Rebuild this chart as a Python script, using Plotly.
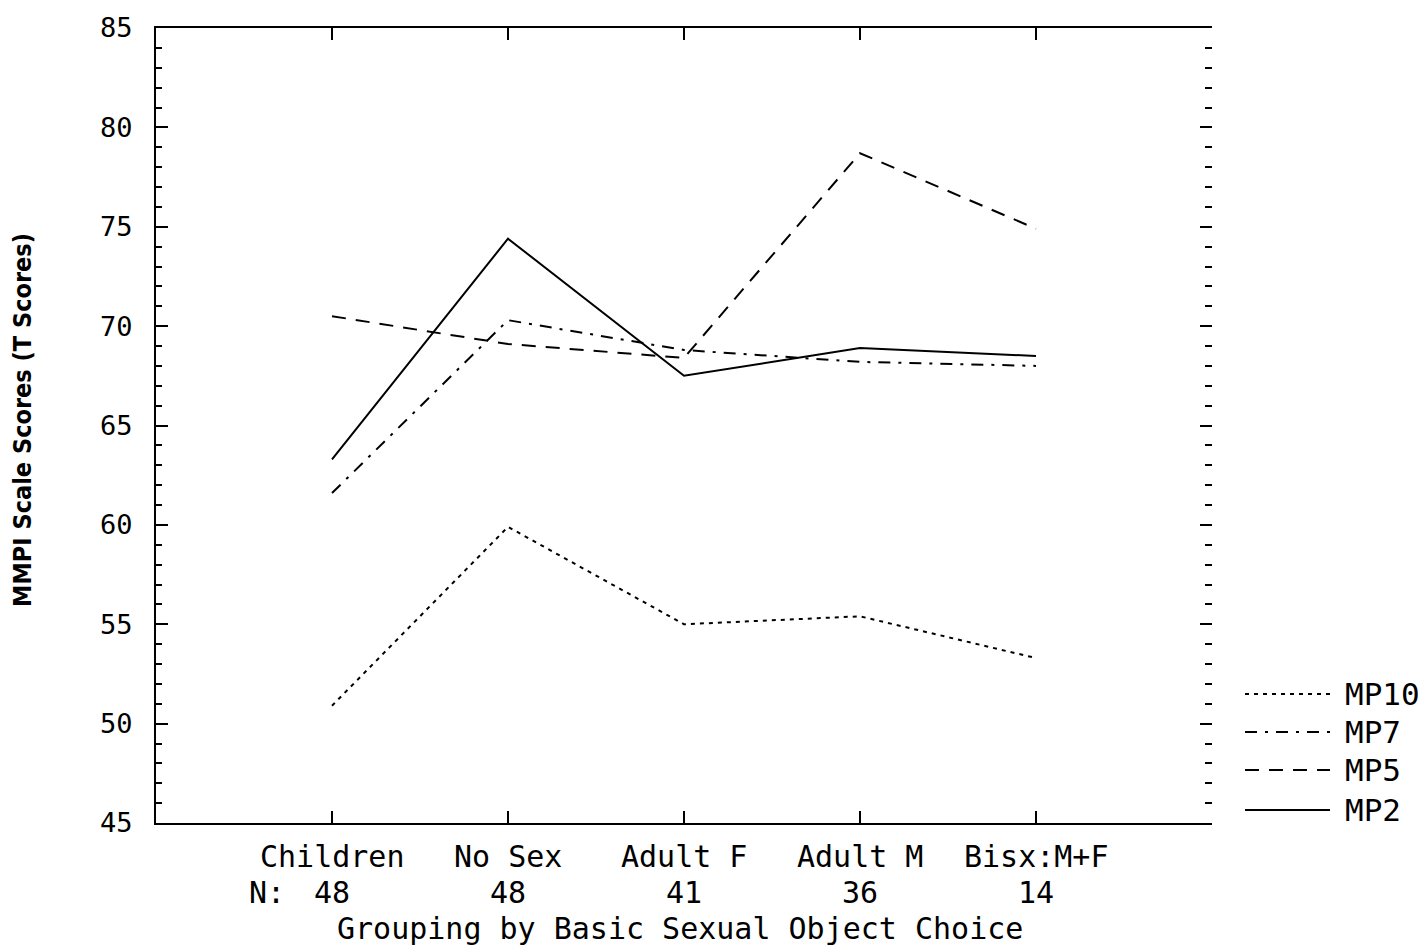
import plotly.graph_objects as go

# ---- data ----
categories = ["Children", "No Sex", "Adult F", "Adult M", "Bisx:M+F"]
n_values = [48, 48, 41, 36, 14]
x_pos = [1, 2, 3, 4, 5]

mp10 = [50.9, 59.9, 55.0, 55.4, 53.3]
mp7 = [61.6, 70.3, 68.8, 68.2, 68.0]
mp5 = [70.5, 69.1, 68.4, 78.7, 74.9]
mp2 = [63.3, 74.4, 67.5, 68.9, 68.5]

series_names = ["MP10", "MP7", "MP5", "MP2"]
series_values = [mp10, mp7, mp5, mp2]
series_dash = ["4px,5px", "12px,8px,3px,8px", "14px,10px", "solid"]

y_ticks = [45, 50, 55, 60, 65, 70, 75, 80, 85]

x_title = "Grouping by Basic Sexual Object Choice"
y_title = "MMPI Scale Scores (T Scores)"

MONO = "DejaVu Sans Mono, Liberation Mono, monospace"
NARROW = "Liberation Sans Narrow, DejaVu Sans Condensed, Arial Narrow, sans-serif"
TXT = 30

fig = go.Figure()
for name, vals, dash in zip(series_names, series_values, series_dash):
    fig.add_trace(go.Scatter(
        x=x_pos, y=vals, mode="lines", name=name,
        line=dict(color="black", width=2, dash=dash),
        showlegend=False,
    ))
# dummy trace so the right-hand tick axis is drawn
fig.add_trace(go.Scatter(x=[None], y=[None], yaxis="y2", showlegend=False))

W, H = 1423, 948
L, R, T, B = 156, 211, 28, 125
pw, ph = W - L - R, H - T - B

fig.update_layout(
    width=W, height=H,
    margin=dict(l=L, r=R, t=T, b=B, pad=0),
    paper_bgcolor="white", plot_bgcolor="white",
    showlegend=False,
    xaxis=dict(
        range=[0, 6], tickvals=x_pos, showticklabels=False,
        showline=True, linecolor="black", linewidth=2, mirror="ticks",
        ticks="inside", ticklen=12, tickwidth=2, tickcolor="black",
        showgrid=False, zeroline=False,
    ),
    yaxis=dict(
        range=[45, 85], tickvals=y_ticks, ticktext=[str(v) for v in y_ticks],
        showline=True, linecolor="black", linewidth=2, mirror=False,
        ticks="inside", ticklen=12, tickwidth=2, tickcolor="black",
        minor=dict(dtick=1, ticks="inside", ticklen=6, tickwidth=2, tickcolor="black"),
        tickfont=dict(family=MONO, size=27, color="black"),
        ticklabelstandoff=16,
        showgrid=False, zeroline=False,
    ),
    yaxis2=dict(
        range=[45, 85], overlaying="y", side="right", anchor="x",
        tickvals=y_ticks, showticklabels=False, showline=False,
        ticks="inside", ticklen=12, tickwidth=2, tickcolor="black",
        minor=dict(dtick=1, ticks="inside", ticklen=7, tickwidth=2, tickcolor="black"),
        showgrid=False, zeroline=False,
    ),
)

ann = []
font_x = dict(family=MONO, size=TXT, color="black")
# category labels
for xp, c in zip(x_pos, categories):
    ann.append(dict(x=xp, y=0, xref="x", yref="paper", yanchor="middle", yshift=-33,
                    text=c, showarrow=False, borderpad=0, font=font_x))
# N row
ann.append(dict(x=0.63, y=0, xref="x", yref="paper", yanchor="middle", yshift=-69,
                text="N:", showarrow=False, borderpad=0, font=font_x))
for xp, n in zip(x_pos, n_values):
    ann.append(dict(x=xp, y=0, xref="x", yref="paper", yanchor="middle", yshift=-69,
                    text=str(n), showarrow=False, borderpad=0, font=font_x))
# x title
ann.append(dict(x=0.496, y=0, xref="paper", yref="paper", yanchor="middle", yshift=-105,
                text=x_title, showarrow=False, borderpad=0, font=font_x))
# y title
ann.append(dict(x=(22 - L) / pw, y=(823 - 420) / ph, xref="paper", yref="paper",
                xanchor="center", yanchor="middle", textangle=-90,
                text=y_title, showarrow=False,
                font=dict(family=NARROW, size=25, color="black", weight="bold")))

# legend (manual, bottom-right outside plot)
leg_y_px = [694, 732, 770, 810]
shapes = []
for name, dash, ypx in zip(series_names, series_dash, leg_y_px):
    yp = (823 - ypx) / ph
    shapes.append(dict(type="line", xref="paper", yref="paper",
                       x0=(1245 - L) / pw, x1=(1330 - L) / pw, y0=yp, y1=yp,
                       line=dict(color="black", width=2, dash=dash)))
    ann.append(dict(x=(1344 - L) / pw, y=yp, xref="paper", yref="paper",
                    xanchor="left", yanchor="middle", text=name, showarrow=False,
                    borderpad=0, font=dict(family=MONO, size=31, color="black")))

fig.update_layout(annotations=ann, shapes=shapes)
fig.write_html("out.html")
